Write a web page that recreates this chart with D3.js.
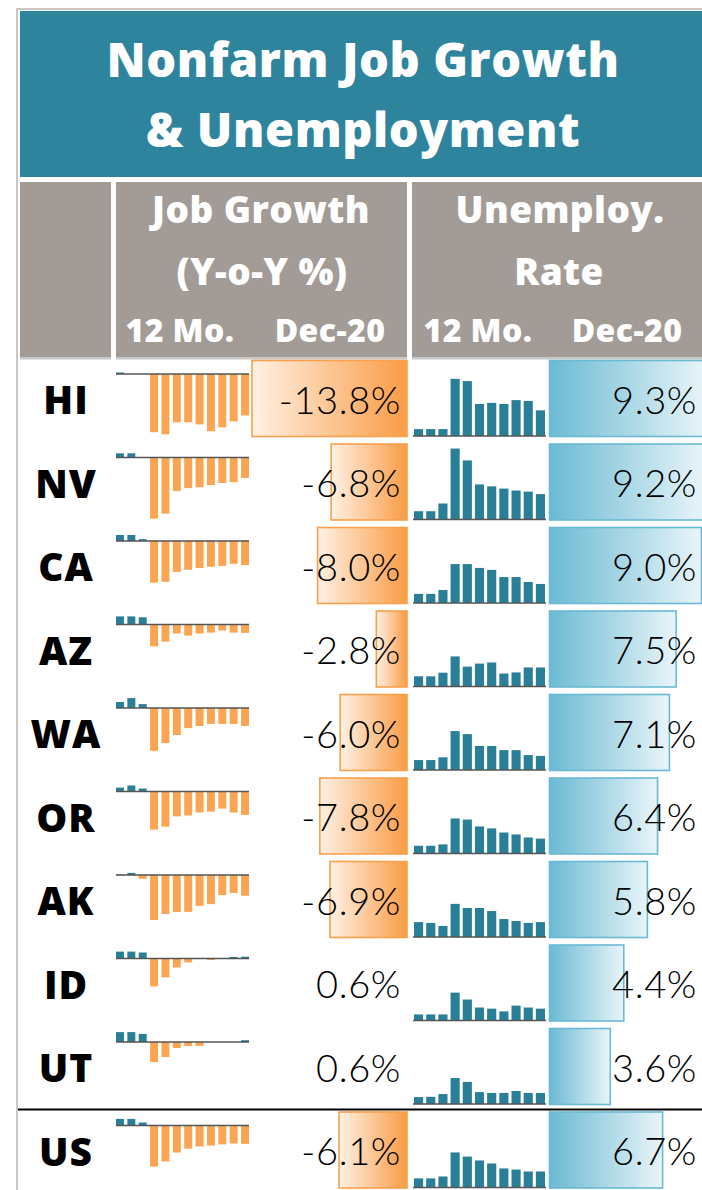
<!DOCTYPE html>
<html>
<head>
<meta charset="utf-8">
<script src="https://cdn.jsdelivr.net/npm/d3@7.9.0/dist/d3.min.js"></script>
<style>
  body { margin: 0; background: #fff; }
  svg { display: block; }
</style>
</head>
<body>
<svg id="chart" width="702" height="1190"></svg>
<script>
const states = ['HI', 'NV', 'CA', 'AZ', 'WA', 'OR', 'AK', 'ID', 'UT', 'US'];
const jobDec = [-13.8, -6.8, -8.0, -2.8, -6.0, -7.8, -6.9, 0.6, 0.6, -6.1];
const unempDec = [9.3, 9.2, 9.0, 7.5, 7.1, 6.4, 5.8, 4.4, 3.6, 6.7];

// 12 months of y-o-y job growth (%) per state
const jobHI = [0.5, 0.0, 0.0, -19.4, -20.1, -16.1, -16.1, -16.8, -19.1, -17.8, -15.8, -13.8];
const jobNV = [1.4, 1.4, 0.1, -20.4, -18.7, -11.2, -10.2, -9.9, -9.2, -8.5, -8.2, -6.8];
const jobCA = [2.0, 2.0, 0.6, -13.9, -13.6, -10.3, -9.6, -9.0, -8.6, -8.3, -7.6, -8.0];
const jobAZ = [2.7, 2.7, 2.4, -7.3, -5.7, -3.0, -3.7, -3.0, -2.7, -2.0, -2.7, -2.8];
const jobWA = [2.0, 3.3, 1.3, -14.3, -11.7, -9.0, -6.7, -6.0, -5.3, -5.3, -5.3, -6.0];
const jobOR = [1.3, 2.0, 1.0, -12.7, -11.7, -8.3, -8.0, -7.0, -6.7, -5.7, -7.0, -7.8];
const jobAK = [0.2, 0.7, -1.3, -15.0, -13.0, -12.3, -12.3, -10.3, -9.7, -6.7, -6.0, -6.9];
const jobID = [2.3, 2.3, 2.0, -9.3, -6.3, -3.0, -1.3, 0.0, -0.5, 0.0, 0.5, 0.6];
const jobUT = [3.3, 3.3, 2.7, -6.7, -5.0, -2.0, -1.3, -1.3, 0.0, 0.0, 0.0, 0.6];
const jobUS = [2.2, 2.2, 1.0, -13.7, -12.0, -9.0, -7.7, -7.0, -6.7, -6.3, -6.0, -6.1];

// monthly unemployment rate (%) per state
const unHI = [2.5, 2.5, 2.5, 20.7, 19.9, 11.6, 12.0, 11.6, 13.0, 12.7, 9.3];
const unNV = [3.0, 3.0, 5.8, 25.7, 21.4, 12.7, 12.0, 11.2, 10.5, 10.1, 9.2];
const unCA = [3.3, 3.3, 4.7, 14.1, 14.1, 12.7, 12.0, 9.4, 9.4, 7.6, 6.9];
const unAZ = [3.7, 3.7, 5.0, 10.9, 7.2, 8.3, 8.7, 4.7, 5.1, 6.9, 6.9];
const unWA = [3.6, 3.6, 4.6, 14.1, 13.0, 8.7, 8.7, 7.2, 7.2, 5.4, 5.1];
const unOR = [2.8, 2.8, 3.3, 12.7, 12.3, 9.8, 9.1, 7.6, 6.9, 5.8, 5.4];
const unAK = [5.4, 5.1, 4.0, 12.0, 10.5, 10.5, 9.4, 6.5, 5.8, 5.1, 5.4];
const unID = [2.2, 2.2, 2.2, 10.1, 7.6, 4.7, 4.3, 3.3, 5.4, 4.7, 4.3];
const unUT = [2.5, 2.6, 3.6, 9.4, 8.0, 4.3, 4.0, 4.0, 4.7, 4.0, 4.0];
const unUS = [3.3, 3.3, 4.0, 12.7, 11.2, 9.8, 8.7, 6.9, 6.5, 5.8, 5.8];

const jobSeries = [jobHI, jobNV, jobCA, jobAZ, jobWA, jobOR, jobAK, jobID, jobUT, jobUS];
const unSeries = [unHI, unNV, unCA, unAZ, unWA, unOR, unAK, unID, unUT, unUS];

const rows = states.map((s, i) => ({
  state: s, job: jobDec[i], unemp: unempDec[i], jobM: jobSeries[i], unM: unSeries[i]
}));

const teal = '#2f849d', gray = '#a39b95';
const orange = '#fba552', blue = '#2a7f98';
const boldFont = "'Open Sans', Lato, sans-serif";
const thinFont = "Lato, 'Open Sans', sans-serif";
const pct = v => v.toFixed(1) + '%';   // plain hyphen for negatives, like the source

const svg = d3.select('#chart');
svg.append('rect').attr('width', 702).attr('height', 1190).attr('fill', '#fff');

// gradients for the data bars
const defs = svg.append('defs');
const gO = defs.append('linearGradient').attr('id', 'gradOrange');
gO.append('stop').attr('offset', '0%').attr('stop-color', '#fff1e4');
gO.append('stop').attr('offset', '100%').attr('stop-color', '#f99c45');
const gB = defs.append('linearGradient').attr('id', 'gradBlue');
gB.append('stop').attr('offset', '0%').attr('stop-color', '#6bbad3');
gB.append('stop').attr('offset', '100%').attr('stop-color', '#e9f5f9');

// outer border
svg.append('rect').attr('x', 17).attr('y', 9).attr('width', 690).attr('height', 1190)
  .attr('fill', 'none').attr('stroke', '#c8c8c8').attr('stroke-width', 2);

// title block
svg.append('rect').attr('x', 20).attr('y', 11).attr('width', 682).attr('height', 166).attr('fill', teal);
svg.append('text').attr('x', 363).attr('y', 77).attr('text-anchor', 'middle')
  .attr('fill', '#fff').attr('font-family', boldFont).attr('font-weight', 800)
  .attr('font-size', 47).attr('letter-spacing', 0.6).text('Nonfarm Job Growth');
svg.append('text').attr('x', 363).attr('y', 147).attr('text-anchor', 'middle')
  .attr('fill', '#fff').attr('font-family', boldFont).attr('font-weight', 800)
  .attr('font-size', 47).attr('letter-spacing', 0.6).text('& Unemployment');

// column headers
const headCells = [[20, 91], [116, 291], [412, 290]];
headCells.forEach(([x, w]) => {
  svg.append('rect').attr('x', x).attr('y', 182).attr('width', w).attr('height', 175).attr('fill', gray);
  svg.append('rect').attr('x', x).attr('y', 357).attr('width', w).attr('height', 2.5).attr('fill', '#c8c8c8');
});

const headText = [
  ['Job Growth', 261, 223, 37], ['(Y-o-Y %)', 262, 285, 37],
  ['12 Mo.', 180, 342, 32], ['Dec-20', 330, 342, 32],
  ['Unemploy.', 560, 223, 37], ['Rate', 559, 285, 37],
  ['12 Mo.', 478, 342, 32], ['Dec-20', 627, 342, 32]
];
svg.selectAll('text.head').data(headText).join('text')
  .attr('class', 'head')
  .attr('x', d => d[1]).attr('y', d => d[2]).attr('text-anchor', 'middle')
  .attr('fill', '#fff').attr('font-family', boldFont).attr('font-weight', 800)
  .attr('font-size', d => d[3]).attr('letter-spacing', 0.4).text(d => d[0]);

// rows
const top0 = 358, rowH = 83.5;
const xJob = d3.scaleBand().domain(d3.range(12)).range([116, 249]).paddingInner(0.3);
const yJob = d3.scaleLinear().domain([-20, 5]).range([76, 1]);
const xUn = d3.scaleBand().domain(d3.range(11)).range([414, 545]).paddingInner(0.25);
const yUn = d3.scaleLinear().domain([0, 28]).range([78, 0.7]);
const wJob = d3.scaleLinear().domain([0, d3.max(jobDec, v => -v)]).range([0, 156]);
const wUn = d3.scaleLinear().domain([0, d3.max(unempDec)]).range([0, 157]);

const row = svg.selectAll('g.row').data(rows).join('g')
  .attr('class', 'row')
  .attr('transform', (d, i) => `translate(0,${top0 + i * rowH})`);

// state label
row.append('text').attr('x', 66).attr('y', 42).attr('dy', '0.36em')
  .attr('text-anchor', 'middle').attr('font-family', boldFont).attr('font-weight', 800)
  .attr('font-size', 39).attr('letter-spacing', 1).attr('fill', '#000').text(d => d.state);

row.each(function (d) {
  const g = d3.select(this);

  // job growth sparkline
  g.selectAll('rect.jb').data(d.jobM).join('rect')
    .attr('class', 'jb')
    .attr('x', (v, i) => xJob(i)).attr('width', xJob.bandwidth())
    .attr('y', v => Math.min(yJob(v), yJob(0)))
    .attr('height', v => Math.abs(yJob(v) - yJob(0)))
    .attr('fill', v => v < 0 ? orange : blue);
  g.append('line').attr('x1', 116).attr('x2', 249).attr('y1', yJob(0)).attr('y2', yJob(0))
    .attr('stroke', '#555').attr('stroke-width', 1.6);

  // unemployment sparkline
  g.selectAll('rect.ub').data(d.unM).join('rect')
    .attr('class', 'ub')
    .attr('x', (v, i) => xUn(i)).attr('width', xUn.bandwidth())
    .attr('y', v => yUn(v)).attr('height', v => yUn(0) - yUn(v))
    .attr('fill', blue);
  g.append('line').attr('x1', 413).attr('x2', 546).attr('y1', yUn(0)).attr('y2', yUn(0))
    .attr('stroke', '#555').attr('stroke-width', 1.6);

  // Dec-20 data bars
  if (d.job < 0) {
    const w = wJob(-d.job);
    g.append('rect').attr('x', 408 - w).attr('y', 2.5).attr('width', w - 1).attr('height', 76)
      .attr('fill', 'url(#gradOrange)').attr('stroke', '#f7a04d').attr('stroke-width', 1.6);
  }
  g.append('rect').attr('x', 549.5).attr('y', 2.5).attr('width', wUn(d.unemp)).attr('height', 76)
    .attr('fill', 'url(#gradBlue)').attr('stroke', '#6bbad3').attr('stroke-width', 1.6);
});

row.append('text').attr('x', 401).attr('y', 42).attr('dy', '0.36em')
  .attr('text-anchor', 'end').attr('font-family', thinFont).attr('font-weight', 300)
  .attr('font-size', 38).attr('letter-spacing', 0.6).attr('fill', '#000')
  .text(d => pct(d.job));
row.append('text').attr('x', 697).attr('y', 42).attr('dy', '0.36em')
  .attr('text-anchor', 'end').attr('font-family', thinFont).attr('font-weight', 300)
  .attr('font-size', 38).attr('letter-spacing', 0.6).attr('fill', '#000')
  .text(d => pct(d.unemp));

// line above the US total
svg.append('line').attr('x1', 18).attr('x2', 702)
  .attr('y1', top0 + 9 * rowH).attr('y2', top0 + 9 * rowH)
  .attr('stroke', '#000').attr('stroke-width', 2);
</script>
</body>
</html>
